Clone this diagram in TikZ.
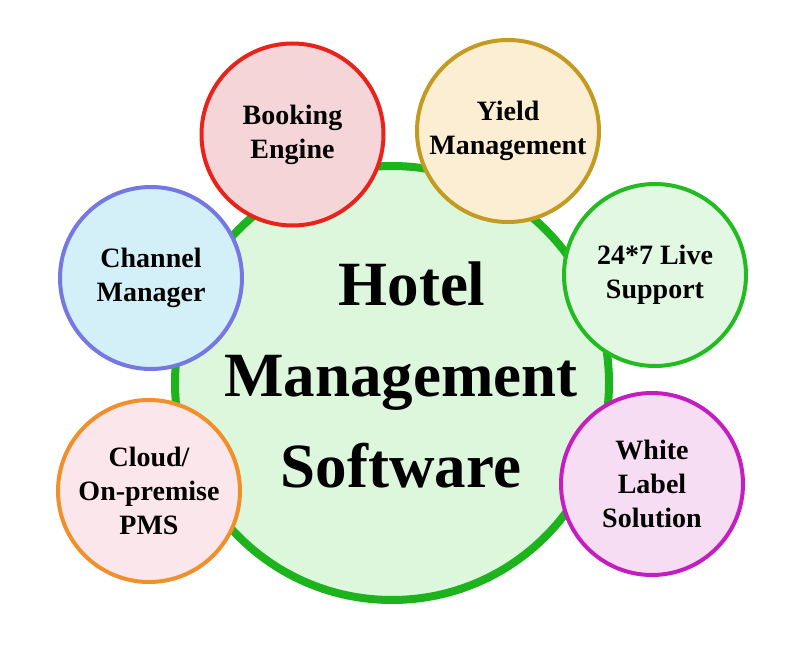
\documentclass[tikz,border=0pt]{standalone}
\usepackage{fontspec}
\setmainfont{Liberation Serif}
\definecolor{hubline}{HTML}{1DB31D}
\definecolor{hubfill}{HTML}{DDF7DD}
\definecolor{bookline}{HTML}{E8231B}
\definecolor{bookfill}{HTML}{F5D5D8}
\definecolor{yieldline}{HTML}{C39A22}
\definecolor{yieldfill}{HTML}{FBEED2}
\definecolor{chanline}{HTML}{7478E0}
\definecolor{chanfill}{HTML}{D3F0F9}
\definecolor{liveline}{HTML}{22BB22}
\definecolor{livefill}{HTML}{E3F8E3}
\definecolor{cloudline}{HTML}{F0902A}
\definecolor{cloudfill}{HTML}{FBE6EC}
\definecolor{whiteline}{HTML}{C51EC0}
\definecolor{whitefill}{HTML}{F6DDF4}
\begin{document}
\begin{tikzpicture}[x=1pt,y=-1pt,
  hub/.style={circle, draw=hubline, fill=hubfill, line width=8pt, minimum size=434pt, inner sep=0pt},
  hubtext/.style={align=center, inner sep=0pt, font=\fontsize{63}{91}\selectfont\bfseries},
  sat/.style={circle, line width=4pt, minimum size=182pt, inner sep=0pt, align=center,
     font=\fontsize{28}{34}\selectfont\bfseries}]
\useasboundingbox (0,0) rectangle (800,663);
\fill[white] (0,0) rectangle (800,663);
\node[hub] (hub) at (392,383) {};
\node[hubtext] (title) at (401,375) {\hspace*{22pt}Hotel\\Management\\Software};
\node[sat, draw=bookline, fill=bookfill] (book) at (292.5,134.5) {Booking\\Engine};
\node[sat, draw=yieldline, fill=yieldfill] (yield) at (508,131) {Yield\\Management};
\node[sat, draw=chanline, fill=chanfill] (chan) at (151,278) {Channel\\Manager};
\node[sat, draw=liveline, fill=livefill] (live) at (655,275) {24*7 Live\\Support};
\node[sat, draw=cloudline, fill=cloudfill] (cloud) at (149,491) {Cloud/\\On-premise\\PMS};
\node[sat, draw=whiteline, fill=whitefill] (wls) at (652,484) {White\\Label\\Solution};
\end{tikzpicture}
\end{document}
